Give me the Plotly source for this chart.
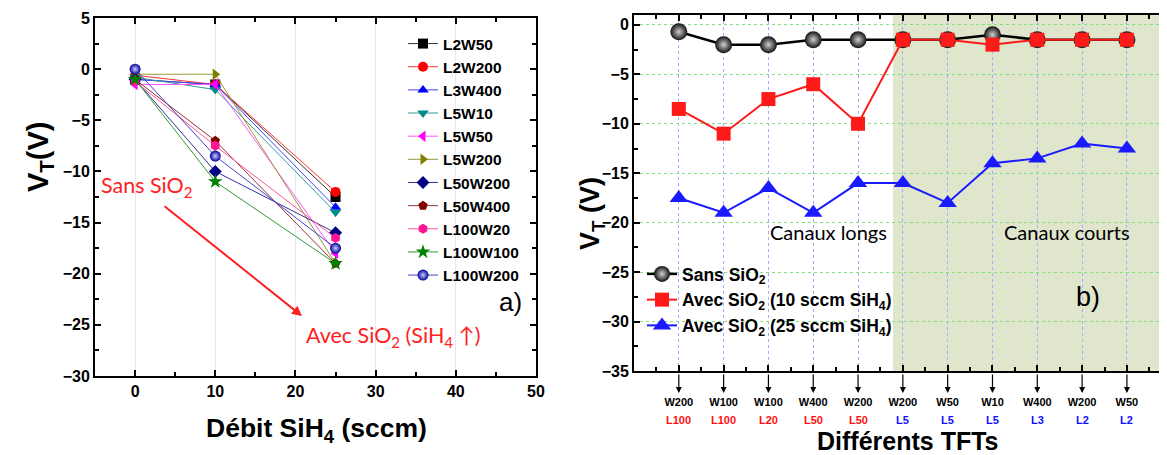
import plotly.graph_objects as go

# ---------------- data: panel a) ----------------
debit = [0, 10, 25]
series_a_names = ["L2W50", "L2W200", "L3W400", "L5W10", "L5W50", "L5W200",
                  "L50W200", "L50W400", "L100W20", "L100W100", "L100W200"]
series_a_values = [
    [-1.0, -1.5, -12.5],
    [-0.6, -1.5, -12.0],
    [-1.0, -1.5, -13.5],
    [-0.8, -2.0, -14.0],
    [-1.5, -1.5, -18.0],
    [-0.5, -0.5, -19.0],
    [-1.0, -10.0, -16.0],
    [-1.0, -7.0, -19.0],
    [-1.2, -7.5, -16.5],
    [-1.0, -11.0, -19.0],
    [0.0, -8.5, -17.5],
]
series_a_colors = ["#000000", "#ff0000", "#0000ff", "#008b8b", "#ff00ff", "#808000",
                   "#000080", "#800000", "#ff1493", "#008000", "#000099"]
series_a_line_colors = ["#333333", "#ff3333", "#4444ff", "#339999", "#ff55ff", "#999933",
                        "#333399", "#993333", "#ff5599", "#339933", "#4444cc"]
series_a_symbols = ["square", "circle", "triangle-up", "triangle-down", "triangle-left",
                    "triangle-right", "diamond", "pentagon", "hexagon", "star", "circle"]

# ---------------- data: panel b) ----------------
tft_pos = [1, 2, 3, 4, 5, 6, 7, 8, 9, 10, 11]
tft_w = ["W200", "W100", "W100", "W400", "W200", "W200", "W50", "W10", "W400", "W200", "W50"]
tft_l = ["L100", "L100", "L20", "L50", "L50", "L5", "L5", "L5", "L3", "L2", "L2"]
tft_l_colors = ["#ff1010"] * 5 + ["#1010ff"] * 6
vt_sans = [-0.7, -2.0, -2.0, -1.5, -1.5, -1.5, -1.5, -1.0, -1.5, -1.5, -1.5]
vt_10 = [-8.5, -11.0, -7.5, -6.0, -10.0, -1.5, -1.5, -2.0, -1.5, -1.5, -1.5]
vt_25 = [-17.5, -19.0, -16.5, -19.0, -16.0, -16.0, -18.0, -14.0, -13.5, -12.0, -12.5]
short_start = 5.78

W, H = 1167, 455
OX, OY = 8, 8  # page body offset


def px(x):
    return (x - OX) / W


def py(y):
    return 1 - (y - OY) / H


fig = go.Figure()

for name, vals, col, lcol, sym in zip(series_a_names, series_a_values, series_a_colors,
                                      series_a_line_colors, series_a_symbols):
    marker = dict(symbol=sym, size=10 if sym != "star" else 11, color=col, line=dict(width=0))
    if name == "L100W200":
        marker["gradient"] = dict(type="radial", color="#ccccff")
        marker["size"] = 11
    fig.add_trace(go.Scatter(x=debit, y=vals, name=name, mode="lines+markers",
                             line=dict(color=lcol, width=1), marker=marker,
                             xaxis="x", yaxis="y", legend="legend"))

fig.add_trace(go.Scatter(x=tft_pos, y=vt_sans, name="Sans SiO<sub>2</sub>", mode="lines+markers",
                         line=dict(color="black", width=2.5),
                         marker=dict(symbol="circle", size=17, color="#111111",
                                     gradient=dict(type="radial", color="#d0d0d0"), line=dict(width=0)),
                         xaxis="x2", yaxis="y2", legend="legend2"))
fig.add_trace(go.Scatter(x=tft_pos, y=vt_10, name="Avec SiO<sub>2</sub> (10 sccm SiH<sub>4</sub>)",
                         mode="lines+markers", line=dict(color="#ff1a1a", width=2),
                         marker=dict(symbol="square", size=14, color="#ff1a1a", line=dict(width=0)),
                         xaxis="x2", yaxis="y2", legend="legend2"))
fig.add_trace(go.Scatter(x=tft_pos, y=vt_25, name="Avec SiO<sub>2</sub> (25 sccm SiH<sub>4</sub>)",
                         mode="lines+markers", line=dict(color="#1a1aff", width=2),
                         marker=dict(symbol="triangle-up", size=16, color="#1a1aff", line=dict(width=0)),
                         xaxis="x2", yaxis="y2", legend="legend2"))

tickfont = dict(family="Liberation Sans, Arial", size=16, color="black", weight=700)
common_axis = dict(showline=True, linecolor="black", linewidth=2, mirror="ticks",
                   ticks="inside", ticklen=6, tickwidth=1.5, tickcolor="black",
                   tickfont=tickfont, zeroline=False, automargin=False)

fig.update_layout(
    width=W, height=H,
    margin=dict(l=0, r=0, t=0, b=0, autoexpand=False),
    paper_bgcolor="white", plot_bgcolor="white",
    xaxis=dict(domain=[px(95), px(536)], range=[-5, 50], dtick=10, tick0=0,
               showgrid=True, gridcolor="#e8e8f2", gridwidth=1,
               minor=dict(dtick=5, ticks="inside", ticklen=4, tickcolor="black", showgrid=False),
               anchor="y", **common_axis),
    yaxis=dict(domain=[py(376), py(18)], range=[-30, 5], dtick=5, tick0=0, showgrid=False,
               minor=dict(dtick=2.5, ticks="inside", ticklen=4, tickcolor="black", showgrid=False),
               anchor="x", **common_axis),
    xaxis2=dict(domain=[px(634), px(1165)], range=[0, 11.85], tickmode="array",
                tickvals=tft_pos, ticktext=tft_w, ticklabelstandoff=20,
                showgrid=True, gridcolor="#a8a8ff", griddash="dot", gridwidth=1,
                minor=dict(tickmode="linear", tick0=0.5, dtick=1, ticks="inside", ticklen=4,
                           tickcolor="black", showgrid=False),
                anchor="y2", automargin=False,
                showline=True, linecolor="black", linewidth=2, mirror="ticks",
                ticks="inside", ticklen=6, tickwidth=1.5, tickcolor="black",
                tickfont=dict(family="Liberation Sans, Arial", size=11, color="black", weight=700),
                zeroline=False),
    yaxis2=dict(domain=[py(371), py(15)], range=[-35, 1], dtick=5, tick0=0,
                showgrid=True, gridcolor="#7fe07f", griddash="dot", gridwidth=1,
                minor=dict(dtick=2.5, ticks="inside", ticklen=4, tickcolor="black", showgrid=False),
                anchor="x2", **common_axis),
    legend=dict(x=px(403), y=py(27), xanchor="left", yanchor="top", bgcolor="rgba(0,0,0,0)",
                font=dict(family="Liberation Sans, Arial", size=15.5, color="black", weight=700),
                tracegroupgap=0),
    legend2=dict(x=px(642), y=py(256), xanchor="left", yanchor="top", bgcolor="rgba(0,0,0,0)",
                 font=dict(family="Liberation Sans, Arial", size=17.5, color="black", weight=700),
                 tracegroupgap=0),
    showlegend=True,
)

fig.add_shape(type="rect", xref="x2", yref="y2", x0=short_start, x1=12, y0=-35, y1=1,
              fillcolor="#dfe6cb", line=dict(width=0), layer="below")

annots = []
bold = dict(family="Liberation Sans, Arial", color="black", weight=700)


def ann(text, x, y, font, **kw):
    d = dict(text=text, xref="paper", yref="paper", x=px(x), y=py(y), showarrow=False,
             xanchor="center", yanchor="middle", font=font)
    d.update(kw)
    annots.append(d)


ann("V<sub>T</sub>(V)", 40, 157, dict(size=29, **bold), textangle=-90)
ann("Débit SiH<sub>4</sub> (sccm)", 316, 430, dict(size=26.5, **bold))
ann("V<sub>T</sub> (V)", 592, 214, dict(size=27, **bold), textangle=-90)
ann("Différents TFTs", 908, 441, dict(size=25, **bold))
red_txt = dict(family="Lato, Open Sans", size=21.5, color="#ff2020")
ann("Sans SiO<sub>2</sub>", 99, 187, red_txt, xanchor="left")
ann("Avec SiO<sub>2</sub> (SiH<sub>4</sub> ↑)", 304, 336, red_txt, xanchor="left")
annots.append(dict(text="", xref="paper", yref="paper", x=px(302), y=py(316),
                   ax=-139, ay=-111, showarrow=True, arrowhead=2, arrowsize=1,
                   arrowwidth=2, arrowcolor="#ff2020"))
ann("a)", 510, 302, dict(family="Liberation Sans, Arial", size=26, color="black"))
ann("b)", 1088, 297, dict(family="Liberation Sans, Arial", size=27, color="black"))
plain = dict(family="Lato, Open Sans", size=20, color="black")
ann("Canaux longs", 828, 232, plain)
ann("Canaux courts", 1067, 232, plain)
for xp, lab, col in zip(tft_pos, tft_l, tft_l_colors):
    annots.append(dict(text="", xref="x2", yref="paper", x=xp, y=py(393),
                       ax=0, ay=-20, showarrow=True, arrowhead=2, arrowsize=1,
                       arrowwidth=1.2, arrowcolor="black"))
    annots.append(dict(text=lab, xref="x2", yref="paper", x=xp, y=py(420),
                       xanchor="center", yanchor="middle", showarrow=False,
                       font=dict(family="Liberation Sans, Arial", size=11, color=col, weight=700)))
fig.update_layout(annotations=annots)

fig.write_html("out.html")
